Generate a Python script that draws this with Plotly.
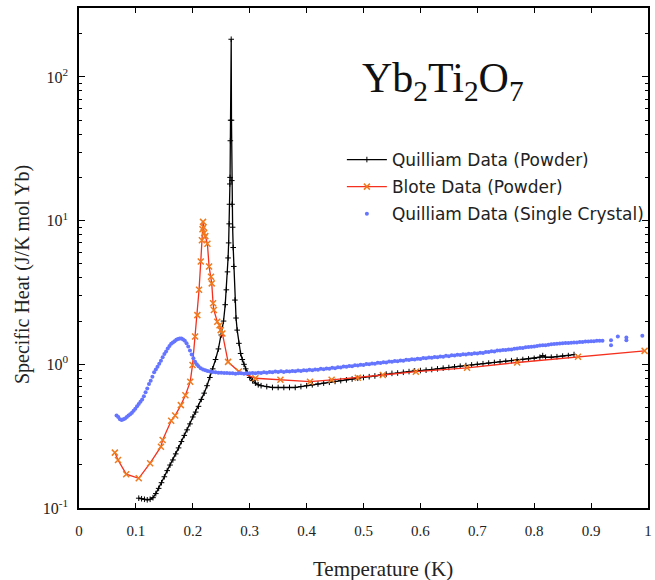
import plotly.graph_objects as go

# ---------------- data ----------------
quilliam_powder_T = [0.105, 0.110, 0.115, 0.120, 0.125, 0.130, 0.135, 0.140, 0.145, 0.150,
                     0.155, 0.160, 0.165, 0.170, 0.175, 0.180, 0.185, 0.190, 0.195, 0.200,
                     0.205, 0.210, 0.215, 0.220, 0.225, 0.230, 0.235, 0.240, 0.245, 0.250,
                     0.254, 0.257, 0.259, 0.261, 0.262, 0.263, 0.264, 0.2645, 0.265, 0.2655,
                     0.266, 0.2665, 0.2675, 0.268, 0.2685, 0.269, 0.270, 0.271, 0.272, 0.274,
                     0.276, 0.278, 0.281, 0.284, 0.287, 0.290, 0.293, 0.296, 0.300, 0.305,
                     0.310, 0.315, 0.320, 0.330, 0.340, 0.350, 0.360, 0.370, 0.380, 0.390,
                     0.400, 0.410, 0.420, 0.430, 0.440, 0.450, 0.460, 0.470, 0.480, 0.490,
                     0.500, 0.510, 0.520, 0.530, 0.540, 0.550, 0.560, 0.570, 0.580, 0.590,
                     0.600, 0.610, 0.620, 0.630, 0.640, 0.650, 0.660, 0.670, 0.680, 0.690,
                     0.700, 0.710, 0.720, 0.730, 0.740, 0.750, 0.760, 0.770, 0.780, 0.790,
                     0.800, 0.810, 0.815, 0.820, 0.830, 0.840, 0.850, 0.860, 0.870]
quilliam_powder_C = [0.117, 0.116, 0.115, 0.114, 0.115, 0.118, 0.126, 0.137, 0.150, 0.165,
                     0.182, 0.199, 0.216, 0.238, 0.262, 0.290, 0.320, 0.350, 0.385, 0.430,
                     0.465, 0.510, 0.570, 0.630, 0.710, 0.810, 0.930, 1.08, 1.28, 1.60,
                     2.0, 2.6, 3.3, 4.4, 5.5, 7.0, 9.5, 13.0, 18.0, 20.0,
                     36.0, 50.0, 183.0, 50.0, 19.0, 13.0, 9.0, 6.5, 4.8, 2.8,
                     2.1, 1.73, 1.40, 1.19, 1.08, 1.00, 0.93, 0.87, 0.81, 0.77,
                     0.74, 0.72, 0.71, 0.70, 0.69, 0.69, 0.69, 0.69, 0.69, 0.70,
                     0.71, 0.72, 0.73, 0.74, 0.75, 0.76, 0.77, 0.78, 0.79, 0.80,
                     0.81, 0.82, 0.83, 0.845, 0.855, 0.865, 0.87, 0.88, 0.89, 0.90,
                     0.905, 0.91, 0.92, 0.93, 0.94, 0.95, 0.96, 0.97, 0.98, 0.99,
                     1.00, 1.01, 1.02, 1.03, 1.04, 1.05, 1.06, 1.07, 1.08, 1.09,
                     1.10, 1.12, 1.15, 1.12, 1.12, 1.13, 1.14, 1.15, 1.17]

blote_T = [0.063, 0.0686, 0.083, 0.105, 0.125, 0.144, 0.147, 0.162, 0.169, 0.179,
           0.187, 0.1955, 0.1995, 0.204, 0.208, 0.211, 0.214, 0.216, 0.217, 0.218,
           0.219, 0.220, 0.222, 0.2257, 0.2286, 0.232, 0.2333, 0.2356, 0.237, 0.243,
           0.247, 0.249, 0.252, 0.262, 0.281, 0.310, 0.354, 0.406, 0.444, 0.490,
           0.534, 0.592, 0.682, 0.770, 0.877, 0.994]
blote_C = [0.243, 0.216, 0.172, 0.161, 0.205, 0.267, 0.297, 0.405, 0.44, 0.52,
           0.61, 0.757, 0.99, 1.56, 2.2, 3.3, 5.2, 7.3, 8.7, 9.8,
           9.0, 8.2, 7.8, 6.9, 4.8, 4.07, 3.66, 2.66, 2.39, 1.98,
           1.87, 1.73, 1.64, 1.04, 0.89, 0.80, 0.78, 0.757, 0.78, 0.807,
           0.843, 0.889, 0.946, 1.03, 1.13, 1.24]

crystal_T = [0.066, 0.069, 0.072, 0.075, 0.078, 0.081, 0.084, 0.087, 0.090, 0.093,
             0.096, 0.099, 0.102, 0.105, 0.108, 0.111, 0.114, 0.117, 0.120, 0.123,
             0.126, 0.129, 0.132, 0.135, 0.138, 0.141, 0.144, 0.147, 0.150, 0.153,
             0.156, 0.159, 0.162, 0.165, 0.168, 0.171, 0.174, 0.177, 0.180, 0.183,
             0.186, 0.189, 0.192, 0.195, 0.198, 0.201, 0.204, 0.207, 0.210, 0.214,
             0.218, 0.222, 0.226, 0.230, 0.235, 0.240, 0.245, 0.250, 0.255, 0.260,
             0.265, 0.270, 0.275, 0.280, 0.285, 0.290, 0.295, 0.300, 0.305, 0.310,
             0.315, 0.320, 0.325, 0.330, 0.335, 0.340, 0.345, 0.350, 0.355, 0.360,
             0.365, 0.370, 0.375, 0.380, 0.385, 0.390, 0.395, 0.400, 0.405, 0.410,
             0.415, 0.420, 0.425, 0.430, 0.435, 0.440, 0.445, 0.450, 0.455, 0.460,
             0.465, 0.470, 0.475, 0.480, 0.485, 0.490, 0.495, 0.500, 0.505, 0.510,
             0.515, 0.520, 0.525, 0.530, 0.535, 0.540, 0.545, 0.550, 0.555, 0.560,
             0.565, 0.570, 0.575, 0.580, 0.585, 0.590, 0.595, 0.600, 0.605, 0.610,
             0.615, 0.620, 0.625, 0.630, 0.635, 0.640, 0.645, 0.650, 0.655, 0.660,
             0.665, 0.670, 0.675, 0.680, 0.685, 0.690, 0.695, 0.700, 0.705, 0.710,
             0.715, 0.720, 0.725, 0.730, 0.735, 0.740, 0.745, 0.750, 0.755, 0.760,
             0.765, 0.770, 0.775, 0.780, 0.785, 0.790, 0.795, 0.800, 0.805, 0.810,
             0.815, 0.820, 0.825, 0.830, 0.835, 0.840, 0.845, 0.850, 0.855, 0.860,
             0.865, 0.870, 0.875, 0.880, 0.885, 0.890, 0.895, 0.900, 0.905, 0.910,
             0.915, 0.920, 0.935, 0.935, 0.947, 0.962, 0.962, 0.990]
crystal_C = [0.44, 0.43, 0.415, 0.41, 0.415, 0.42, 0.43, 0.44, 0.45, 0.46,
             0.475, 0.49, 0.51, 0.53, 0.55, 0.57, 0.60, 0.64, 0.68, 0.73,
             0.77, 0.82, 0.88, 0.92, 0.96, 1.01, 1.06, 1.12, 1.18, 1.23,
             1.29, 1.34, 1.39, 1.42, 1.45, 1.48, 1.50, 1.51, 1.51, 1.49,
             1.46, 1.40, 1.33, 1.25, 1.17, 1.10, 1.04, 1.00, 0.97, 0.94,
             0.92, 0.91, 0.90, 0.89, 0.885, 0.88, 0.875, 0.875, 0.87, 0.87,
             0.865, 0.865, 0.86, 0.865, 0.865, 0.86, 0.865, 0.865, 0.87, 0.865,
             0.875, 0.87, 0.88, 0.875, 0.885, 0.88, 0.89, 0.885, 0.895, 0.885,
             0.895, 0.89, 0.90, 0.895, 0.905, 0.90, 0.91, 0.905, 0.915, 0.91,
             0.92, 0.915, 0.93, 0.925, 0.935, 0.93, 0.945, 0.94, 0.955, 0.95,
             0.965, 0.96, 0.975, 0.97, 0.985, 0.98, 0.995, 0.99, 1.005, 1.00,
             1.015, 1.01, 1.025, 1.02, 1.035, 1.03, 1.045, 1.04, 1.055, 1.05,
             1.065, 1.06, 1.075, 1.07, 1.085, 1.08, 1.095, 1.09, 1.105, 1.10,
             1.115, 1.11, 1.125, 1.12, 1.135, 1.13, 1.145, 1.14, 1.155, 1.15,
             1.165, 1.16, 1.175, 1.17, 1.185, 1.18, 1.195, 1.19, 1.205, 1.20,
             1.22, 1.22, 1.235, 1.23, 1.25, 1.25, 1.26, 1.26, 1.27, 1.27,
             1.285, 1.29, 1.30, 1.30, 1.315, 1.32, 1.325, 1.33, 1.34, 1.35,
             1.355, 1.36, 1.37, 1.38, 1.385, 1.39, 1.395, 1.40, 1.405, 1.41,
             1.415, 1.42, 1.42, 1.43, 1.43, 1.44, 1.44, 1.45, 1.45, 1.46,
             1.46, 1.46, 1.47, 1.36, 1.56, 1.54, 1.47, 1.58]

x_ticks = [0, 0.1, 0.2, 0.3, 0.4, 0.5, 0.6, 0.7, 0.8, 0.9, 1]
x_tick_text = ["0", "0.1", "0.2", "0.3", "0.4", "0.5", "0.6", "0.7", "0.8", "0.9", "1"]
y_ticks = [0.1, 1, 10, 100]
y_tick_text = ["10<sup>-1</sup>", "10<sup>0</sup>", "10<sup>1</sup>", "10<sup>2</sup>"]
y_minor = [m * 10 ** e for e in (-1, 0, 1, 2) for m in range(2, 10) if m * 10 ** e < 310]

SERIF = "Liberation Serif, DejaVu Serif, serif"
SANS = "DejaVu Sans, sans-serif"

fig = go.Figure()
fig.add_trace(go.Scatter(
    x=quilliam_powder_T, y=quilliam_powder_C, mode="lines+markers",
    name="Quilliam Data (Powder)", legendgroup="a",
    line=dict(color="black", width=1.3),
    marker=dict(symbol="cross-thin", size=4, color="black", line=dict(color="black", width=1)),
))
fig.add_trace(go.Scatter(
    x=blote_T, y=blote_C, mode="lines+markers",
    name="Blote Data (Powder)", legendgroup="b",
    line=dict(color="#f5301e", width=1.3),
    marker=dict(symbol="x-thin", size=6, color="#f07a1e", line=dict(color="#f07a1e", width=1.5)),
))
fig.add_trace(go.Scatter(
    x=crystal_T, y=crystal_C, mode="markers",
    name="Quilliam Data (Single Crystal)", legendgroup="c",
    marker=dict(symbol="circle", size=4, color="#6575ff", line=dict(width=0)),
))

fig.update_layout(
    width=655, height=580,
    margin=dict(l=79, r=3, t=8, b=72),
    paper_bgcolor="white", plot_bgcolor="white",
    showlegend=True,
    legend=dict(x=0.462, y=0.732, xanchor="left", yanchor="top",
                bgcolor="rgba(0,0,0,0)", font=dict(family=SANS, size=17, color="#222"),
                tracegroupgap=2, traceorder="grouped", itemwidth=40),
    annotations=[
        dict(text="Yb<sub>2</sub>Ti<sub>2</sub>O<sub>7</sub>", xref="paper", yref="paper",
             x=0.64, y=0.855, yanchor="middle", showarrow=False,
             font=dict(family=SERIF, size=42, color="#111")),
        dict(text="Temperature (K)", xref="paper", yref="paper", x=0.534, y=-0.122,
             yanchor="middle", showarrow=False, font=dict(family=SERIF, size=21, color="#222")),
        dict(text="Specific Heat (J/K mol Yb)", xref="paper", yref="paper", x=-0.1, y=0.466,
             textangle=-90, xanchor="center", yanchor="middle", showarrow=False,
             font=dict(family=SERIF, size=20, color="#222")),
    ],
)

fig.update_xaxes(
    range=[0, 1], tickvals=x_ticks, ticktext=x_tick_text,
    ticks="inside", ticklen=5, tickwidth=1, tickcolor="black",
    showline=True, linecolor="black", linewidth=1.5, mirror="allticks",
    showgrid=False, zeroline=False, ticklabelstandoff=8,
    tickfont=dict(family=SERIF, size=15, color="#222"),
)
fig.update_yaxes(
    type="log", range=[-1, 2.48], tickvals=y_ticks, ticktext=y_tick_text,
    ticks="inside", ticklen=6, tickwidth=1, tickcolor="black",
    minor=dict(tickvals=y_minor, ticks="inside", ticklen=3, tickcolor="black", showgrid=False),
    showline=True, linecolor="black", linewidth=1.5, mirror="allticks",
    showgrid=False, zeroline=False, ticklabelstandoff=6,
    tickfont=dict(family=SERIF, size=16, color="#222"),
)

fig.write_html("out.html")
